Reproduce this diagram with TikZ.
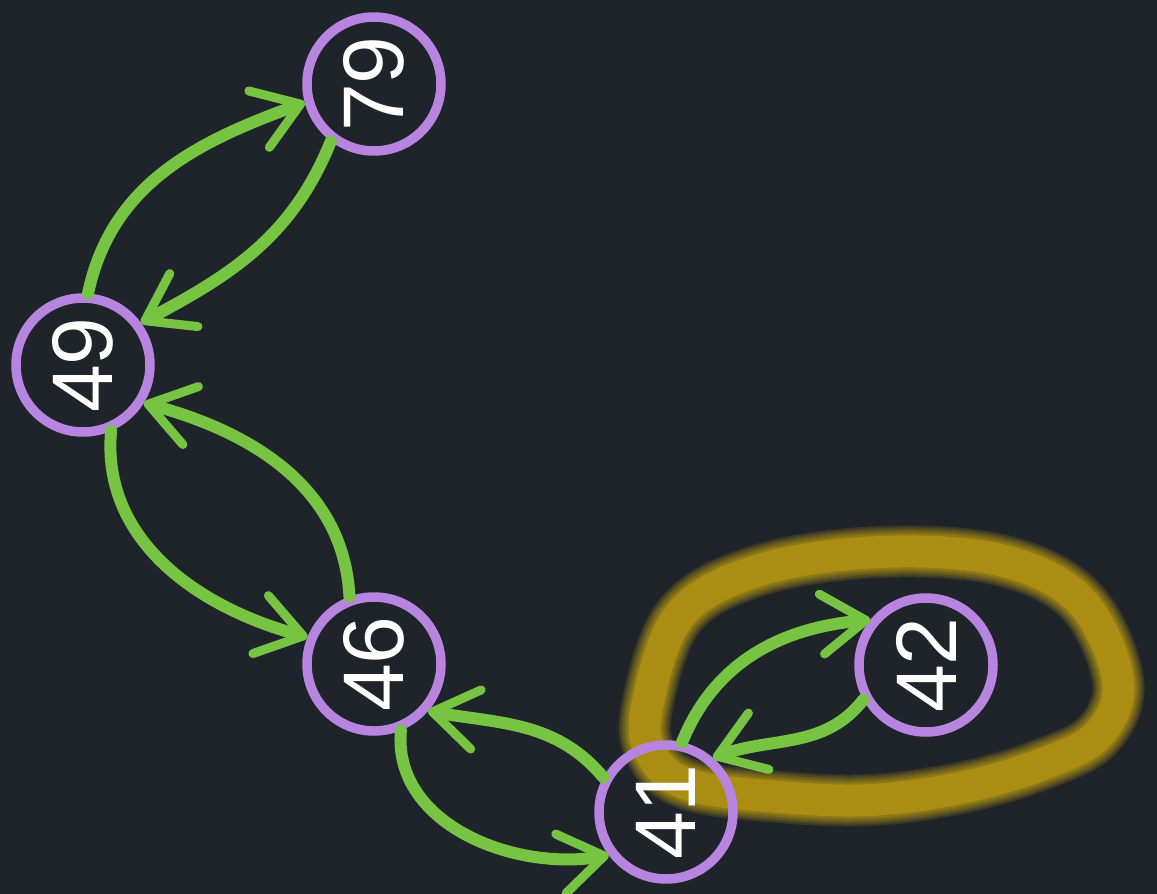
\documentclass[tikz,border=0pt]{standalone}
\usepackage{fontspec}
\setmainfont{Liberation Sans}
\usetikzlibrary{arrows.meta}
\definecolor{bgc}{HTML}{1F242B}
\definecolor{edgec}{HTML}{76C442}
\definecolor{ringc}{HTML}{B784E0}
\definecolor{hlc}{HTML}{AA8D12}
\tikzset{
  vtx/.style={circle, draw=ringc, line width=9.5pt, minimum size=134pt, inner sep=0pt, text=white,
    font=\fontsize{86}{86}\selectfont},
  lnk/.style={draw=edgec, line width=12pt, line cap=round,
    -{Straight Barb[length=44pt, width=60pt, line width=9pt, round]}},
}
\newcommand{\vlab}[1]{\rotatebox{90}{#1}}
\begin{document}
\begin{tikzpicture}[x=1pt, y=-1pt]
\fill[bgc] (0,0) rectangle (1157,894);
\useasboundingbox (0,0) rectangle (1157,894);
% highlight loop
\foreach \w/\o in {52/0.2, 48/0.22, 44/0.25, 40/0.3, 36/0.4, 32/1} {
  \draw[hlc, line width=\w pt, opacity=\o] plot[smooth cycle, tension=0.6] coordinates {
    (647,707) (680,615) (760,570) (880,552) (1000,560) (1080,600) (1118,680)
    (1098,735) (1040,765) (960,788) (870,800) (780,797) (690,785) (652,755)};
}
% nodes
\node[vtx] (n79) at (374,84) {\vlab{79}};
\node[vtx] (n49) at (83,365) {\vlab{49}};
\node[vtx] (n46) at (374,664) {\vlab{46}};
\node[vtx] (n41) at (666,812) {\vlab{41}};
\node[vtx] (n42) at (926,665) {\vlab{42}};
% edges
\draw[lnk] (n49.86) to[out=78, in=200] (n79.195);
\draw[lnk] (n79.233) to[out=248, in=28] (n49.36);
\draw[lnk] (n46.110) to[out=93, in=345] (n49.328);
\draw[lnk] (n49.293) to[out=265, in=165] (n46.158);
\draw[lnk] (n41.151) to[out=130, in=350] (n46.319);
\draw[lnk] (n46.292) to[out=265, in=190] (n41.217);
\draw[lnk] (n41.77) to[out=68, in=185] (n42.141);
\draw[lnk] (n42.209) to[out=232, in=20] (n41.49);
\end{tikzpicture}
\end{document}
